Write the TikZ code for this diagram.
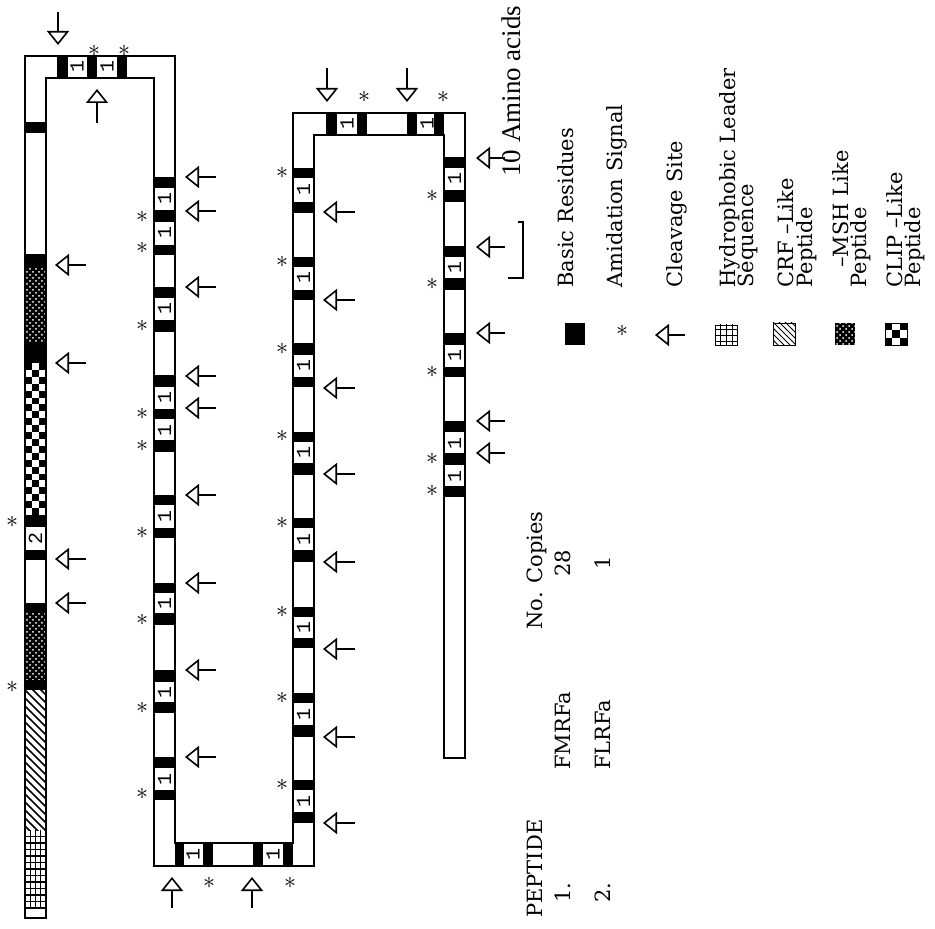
\documentclass[tikz,border=0pt]{standalone}
\usepackage{fontspec}
\setmainfont{DejaVu Serif}
\newfontfamily\boxfont{Liberation Mono}
\newfontfamily\barfont{Liberation Serif}
\usetikzlibrary{arrows.meta,patterns}

\tikzset{
  strand/.style={line width=1pt},
  cleave/.style={line width=0.8pt,-{Triangle[open,length=7pt,width=11pt]}},
  amid/.style={inner sep=0pt,font=\fontsize{12}{12}\selectfont},
  resno/.style={rotate=90,inner sep=0pt,font=\boxfont\fontsize{10}{10}\selectfont},
  vtext/.style={rotate=90,anchor=base west,inner sep=0pt,font=\fontsize{10.5}{10.5}\selectfont},
  msh/.style={pattern=crosshatch dots,pattern color=white},
}

\begin{document}
\begin{tikzpicture}[x=0.5pt,y=-0.5pt]
\useasboundingbox (0,0) rectangle (935,929);

\fill (25,267) rectangle (46,343);
\fill[msh] (25,267) rectangle (46,343);
\fill (25,613) rectangle (46,680);
\fill[msh] (25,613) rectangle (46,680);
\foreach \i in {0,2,...,20} {
  \fill (25,363+6.91*\i) rectangle ++(7,6.91);
  \fill (39,363+6.91*\i) rectangle ++(7,6.91);
  \fill (32,363+6.91*\i+6.91) rectangle ++(7,6.91);
}
\begin{scope}
  \clip (25,690) rectangle (46,830);
  \foreach \k in {-24,-16,...,136} \draw[line width=0.8pt] (25,690+\k) -- ++(21,21);
\end{scope}
\foreach \x in {30.25,35.5,40.75} \draw[line width=0.7pt] (\x,830) -- (\x,908);
\foreach \y in {836.5,843,...,902} \draw[line width=0.7pt] (25,\y) -- (46,\y);
\draw[strand] (25,908) -- (46,908);

\foreach \a/\b in {122/133,254/267,343/363,515/527,550/560,603/613,680/690}
  \fill (25,\a) rectangle (46,\b);
\foreach \a/\b in {177/188,210/222,245/255,287/298,320/332,375/387,409/419,440/452,495/505,528/538,583/593,613/625,670/682,702/713,757/768,790/800}
  \fill (154,\a) rectangle (175,\b);
\foreach \a/\b in {168/178,202/213,257/267,290/300,343/355,377/387,432/442,463/475,518/528,550/562,607/617,638/648,693/703,725/737,780/790,812/823}
  \fill (293,\a) rectangle (314,\b);
\foreach \a/\b in {157/168,190/202,246/257,278/290,333/345,367/377,421/432,453/465,486/497}
  \fill (444,\a) rectangle (465,\b);
\foreach \a/\b in {57/68,87/97,117/127} \fill (\a,56) rectangle (\b,78);
\foreach \a/\b in {326/337,357/367,407/417,434/444} \fill (\a,113) rectangle (\b,135);
\foreach \a/\b in {175/184,203/213,253/263,283/293} \fill (\a,843) rectangle (\b,866);

\draw[strand] (25,918) -- (25,56) -- (175,56) -- (175,843) -- (293,843) -- (293,113)
  -- (465,113) -- (465,758) -- (444,758) -- (444,135) -- (314,135) -- (314,866)
  -- (154,866) -- (154,78) -- (46,78) -- (46,918) -- cycle;

\foreach \y in {199,233,309,398,430,516,603,692,779} \node[resno] (b2-\y) at (164.5,\y) {1};
\foreach \y in {190,278,366,452,539,627,714,801} \node[resno] (b3-\y) at (303.5,\y) {1};
\foreach \y in {179,268,356,443,476} \node[resno] (b4-\y) at (454.5,\y) {1};
\foreach \x in {77,107} \node[resno] (t1-\x) at (\x,67) {1};
\foreach \x in {347,427} \node[resno] (t2-\x) at (\x,124) {1};
\foreach \x in {193,273} \node[resno] (u-\x) at (\x,854.5) {1};
\node[resno] (b1) at (35.5,538) {2};

\foreach \x/\y in {94/51,124/51,12/522,12/687,209/883,290/883,364/97,443/97}
  \node[amid] (s-\x) at (\x,\y) {$\ast$};
\foreach \y in {217,248,326,414,446,533,620,708,794} \node[amid] (s2-\y) at (142,\y) {$\ast$};
\foreach \y in {173,262,349,436,523,612,698,785} \node[amid] (s3-\y) at (282,\y) {$\ast$};
\foreach \y in {196,284,372,459,491} \node[amid] (s4-\y) at (432,\y) {$\ast$};

\draw[cleave] (58,12) -- (58,45);
\draw[cleave] (97,123) -- (97,89);
\foreach \y in {265,363,559,603} \draw[cleave] (86,\y) -- (55,\y);
\foreach \y in {177,211,287,376,408,495,583,670,757} \draw[cleave] (216,\y) -- (185,\y);
\foreach \x in {172,252} \draw[cleave] (\x,908) -- (\x,877);
\foreach \y in {212,300,388,474,562,649,737,823} \draw[cleave] (355,\y) -- (323,\y);
\foreach \x in {327,407} \draw[cleave] (\x,68) -- (\x,102);
\foreach \y in {158,247,333,421,453} \draw[cleave] (505,\y) -- (476,\y);

\draw[line width=0.8pt] (518,222) -- (523,222) -- (523,278) -- (508,278);
\node[vtext,font=\barfont\fontsize{13.5}{13.5}\selectfont] (scale) at (520,177) {10 Amino acids};

\fill (565,323) rectangle (585,345);
\node[amid] (amidkey) at (622,331) {$\ast$};
\draw[cleave] (685,335) -- (655,335);
\draw[pattern=grid] (715,325) rectangle (737,345);
\draw[pattern=north west lines] (773,323) rectangle (795,345);
\fill (835,323) rectangle (855,345);
\fill[msh] (835,323) rectangle (855,345);
\draw (885,323) rectangle (907,345);
\foreach \i/\j in {0/0,2/0,1/1,0/2,2/2} \fill (885+7.33*\i,323+7.33*\j) rectangle ++(7.33,7.33);

\node[vtext] (basic) at (573,288) {Basic Residues};
\node[vtext] (amidsig) at (622,288) {Amidation Signal};
\node[vtext] (cleav) at (682,288) {Cleavage Site};
\node[vtext] (hydro) at (735,288) {Hydrophobic Leader};
\node[vtext] (hydro2) at (753,288) {Sequence};
\node[vtext] (crf) at (793,288) {CRF –Like};
\node[vtext] (crf2) at (812,288) {Peptide};
\node[vtext] (msh) at (848,268) {–MSH Like};
\node[vtext] (msh2) at (866,288) {Peptide};
\node[vtext] (clip) at (902,288) {CLIP –Like};
\node[vtext] (clip2) at (920,288) {Peptide};

\node[vtext] (pep) at (542,918) {PEPTIDE};
\node[vtext] (copies) at (542,630) {No. Copies};
\node[vtext] (p1) at (570,903) {1.};
\node[vtext] (p1name) at (570,770) {FMRFa};
\node[vtext] (p1n) at (570,577) {28};
\node[vtext] (p2) at (610,903) {2.};
\node[vtext] (p2name) at (610,770) {FLRFa};
\node[vtext] (p2n) at (610,570) {1};
\end{tikzpicture}
\end{document}
